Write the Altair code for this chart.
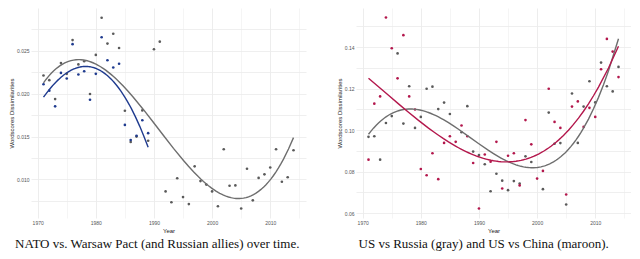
import altair as alt
import pandas as pd

# ---------------- data ----------------
left_years = list(range(1971, 2015))
nato_gray = [0.02213, 0.02158, 0.01937, 0.02357, 0.02232, 0.02626, 0.02342, 0.02379,
             0.01997, 0.02453, 0.02886, 0.02585, 0.02699, 0.02533, 0.01801, 0.01437,
             0.01500, 0.01805, 0.01451, 0.02519, 0.02607, 0.00860, 0.00734, 0.01014,
             0.00794, 0.00712, 0.01153, 0.00981, 0.00940, 0.00860, 0.00687, 0.01352,
             0.00926, 0.00930, 0.00661, 0.01125, 0.00756, 0.01018, 0.01059, 0.01139,
             0.01352, 0.00973, 0.01025, 0.01341]
blue_years = list(range(1971, 1990))
nato_blue = [0.02110, 0.02036, 0.01853, 0.02243, 0.02177, 0.02578, 0.02224, 0.02262,
             0.01930, 0.02232, 0.02659, 0.02390, 0.02306, 0.02350, 0.01636, 0.01460,
             0.01510, 0.01690, 0.01540]

russia_years = [1971, 1972, 1973, 1974, 1975, 1976, 1977, 1978, 1979, 1980, 1981, 1982,
                1983, 1984, 1985, 1987, 1988, 1989, 1990, 1991, 1992, 1993, 1994, 1995,
                1996, 1997, 1998, 1999, 2001, 2002, 2003, 2004, 2005, 2006, 2007, 2008,
                2009, 2010, 2011, 2012, 2013, 2014]
us_russia = [0.0968, 0.0971, 0.0858, 0.1035, 0.1068, 0.1370, 0.1032, 0.1212, 0.1011,
             0.1064, 0.1200, 0.1210, 0.1102, 0.1133, 0.1078, 0.0990, 0.1116, 0.0897,
             0.0880, 0.0836, 0.0706, 0.0790, 0.0757, 0.0711, 0.0755, 0.0743, 0.0874,
             0.0847, 0.0716, 0.1085, 0.0935, 0.0938, 0.0642, 0.1177, 0.0939, 0.1114,
             0.1236, 0.1134, 0.1326, 0.1212, 0.1187, 0.1305]
china_years = list(range(1971, 2015))
us_china = [0.0858, 0.1128, 0.1163, 0.1543, 0.1395, 0.1250, 0.1458, 0.1163, 0.1100,
            0.0813, 0.0783, 0.0889, 0.0764, 0.0939, 0.0971, 0.0944, 0.1023, 0.0971,
            0.0842, 0.0623, 0.0883, 0.0848, 0.0944, 0.0719, 0.0877, 0.0889, 0.0734,
            0.1049, 0.0932, 0.0767, 0.0804, 0.1200, 0.1040, 0.1011, 0.0690, 0.1114,
            0.1139, 0.1016, 0.1108, 0.1064, 0.1294, 0.1440, 0.1379, 0.1256]

x_ticks = [1970, 1975, 1980, 1985, 1990, 1995, 2000, 2005, 2010, 2015]
left_y_ticks = [0.0075, 0.010, 0.0125, 0.015, 0.0175, 0.020, 0.0225, 0.025, 0.0275]
right_y_ticks = [0.06, 0.07, 0.08, 0.09, 0.10, 0.11, 0.12, 0.13, 0.14, 0.15]

left_caption = "NATO vs. Warsaw Pact (and Russian allies) over time."
right_caption = "US vs Russia (gray) and US vs China (maroon)."

GRAY_PT = "#5a5a5a"
GRAY_LN = "#6e6e6e"
BLUE = "#1f3b8f"
MAROON = "#b3174c"

W, H = 275, 210


def df_of(years, vals):
    return pd.DataFrame({"Year": years, "value": vals})


def panel(series, ydomain, yvals, ylabel_expr, caption):
    xenc = alt.X("Year:Q",
                 scale=alt.Scale(domain=[1968.85, 2016.15], nice=False, zero=False),
                 axis=alt.Axis(values=x_ticks, title="Year",
                               labelExpr="datum.value % 10 == 0 ? '' + datum.value : ''",
                               gridColor={"condition": {"test": "datum.value % 10 == 0", "value": "#e8e8e8"},
                                          "value": "#f3f3f3"}))
    yenc = alt.Y("value:Q",
                 scale=alt.Scale(domain=ydomain, nice=False, zero=False),
                 axis=alt.Axis(values=yvals, title="Wordscores Dissimilarities",
                               labelExpr=ylabel_expr))
    layers = []
    for years, vals, col, order in series:
        layers.append(alt.Chart(df_of(years, vals)).mark_circle(size=7, opacity=1, color=col)
                      .encode(x=xenc, y=yenc))
    for years, vals, col, order in series:
        lc = GRAY_LN if col == GRAY_PT else col
        layers.append(alt.Chart(df_of(years, vals))
                      .transform_regression("Year", "value", method="poly", order=order)
                      .mark_line(color=lc, strokeWidth=1.4)
                      .encode(x=xenc, y=yenc))
    return alt.layer(*layers).properties(
        width=W, height=H,
        title=alt.TitleParams(caption, orient="bottom", anchor="middle", frame="bounds",
                              font="Liberation Serif", fontSize=13, fontWeight="normal",
                              color="#111111", offset=5))


left = panel([(left_years, nato_gray, GRAY_PT, 3), (blue_years, nato_blue, BLUE, 3)],
             [0.0055, 0.0300], left_y_ticks,
             "abs(datum.value*200 - round(datum.value*200)) < 0.01 ? format(datum.value, '.3f') : ''",
             left_caption)
right = panel([(russia_years, us_russia, GRAY_PT, 3), (china_years, us_china, MAROON, 3)],
              [0.0577, 0.1589], right_y_ticks,
              "abs(datum.value*50 - round(datum.value*50)) < 0.01 ? format(datum.value, '.2f') : ''",
              right_caption)

chart = alt.hconcat(left, right, spacing=30).properties(padding=0).configure_view(
    stroke=None
).configure_axis(
    domain=False, ticks=False, labelFont="Liberation Sans", labelFontSize=5,
    labelColor="#555555", labelPadding=2, titleFont="Liberation Sans", titleFontSize=6,
    titleFontWeight="normal", titleColor="#222222", titlePadding=2,
    gridColor="#ebebeb", gridWidth=0.8
)

chart.save("out.html", embed_options={"renderer": "svg", "actions": False})
